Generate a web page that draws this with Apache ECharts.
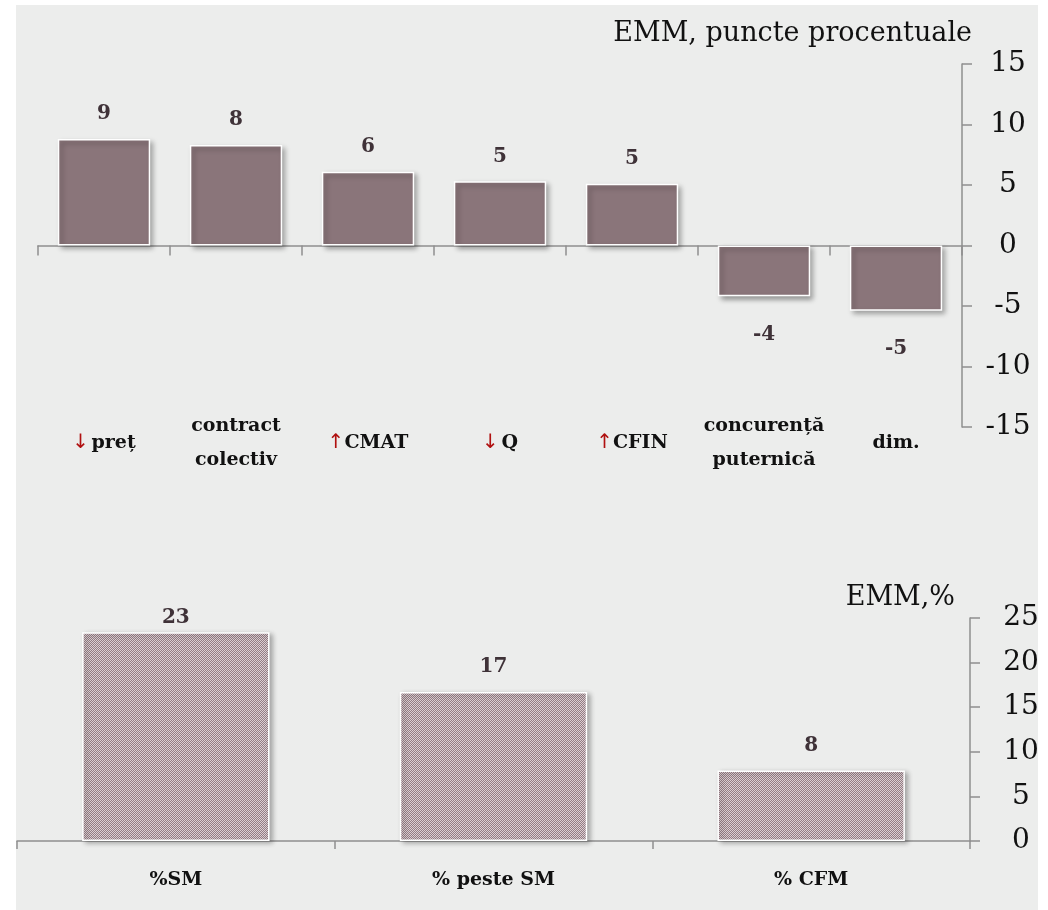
<!DOCTYPE html>
<html>
<head>
<meta charset="utf-8">
<script src="https://cdn.jsdelivr.net/npm/echarts@6/dist/echarts.min.js"></script>
<style>
  html, body { margin: 0; padding: 0; background: #ffffff; }
  #chart { width: 1048px; height: 910px; }
</style>
</head>
<body>
<div id="chart"></div>
<script>
// Factori care influențează salariile (EMM)
const factorCategories = ['↓ preț', 'contract\ncolectiv', '↑CMAT', '↓ Q', '↑CFIN', 'concurență\nputernică', 'dim.'];
const factorValues = [8.8, 8.3, 6.1, 5.3, 5.1, -4.2, -5.4];
const factorTicks = { min: -15, max: 15, step: 5 };

// Structura ajustărilor salariale (EMM, %)
const shareCategories = ['%SM', '% peste SM', '% CFM'];
const shareValues = [23.4, 16.7, 7.9];
const shareTicks = { min: 0, max: 25, step: 5 };

const SERIF = 'DejaVu Serif';
const AXIS_GRAY = '#8f8f8f';
const BAR = '#8a757a';
const LABEL_DARK = '#3f3238';

// fine dotted fill for the lower bars
function dotPattern() {
  const c = document.createElement('canvas');
  c.width = 2; c.height = 2;
  const g = c.getContext('2d');
  g.fillStyle = '#947d84'; g.fillRect(0, 0, 2, 2);
  g.fillStyle = '#dccfd3'; g.fillRect(0, 0, 1, 1); g.fillRect(1, 1, 1, 1);
  return c;
}

// category text with red arrows kept as rich-text fragments
function factorLabel(v) {
  return v.split('\n').map(line => {
    const m = line.match(/^([↓↑])(\s?)(.*)$/);
    if (m) return '{arr|' + m[1] + '}' + (m[2] ? '{sp| }' : '') + '{txt|' + m[3] + '}';
    return '{txt|' + line + '}';
  }).join('\n');
}

const chart = echarts.init(document.getElementById('chart'), null, { renderer: 'canvas' });

const option = {
  animation: false,
  backgroundColor: '#ffffff',
  graphic: [{
    type: 'rect', z: -10, silent: true,
    shape: { x: 16, y: 5, width: 1022, height: 905 },
    style: { fill: '#ecedec' }
  }],
  title: [
    { text: 'EMM, puncte procentuale', right: 76, top: 20, padding: 0,
      textStyle: { fontFamily: SERIF, fontSize: 27, fontWeight: 'normal', color: '#111' } },
    { text: 'EMM,%', right: 93, top: 584, padding: 0,
      textStyle: { fontFamily: SERIF, fontSize: 27, fontWeight: 'normal', color: '#111' } }
  ],
  grid: [
    { left: 38, right: 86, top: 64, height: 363 },
    { left: 17, right: 78, top: 618, height: 223 }
  ],
  xAxis: [
    {
      type: 'category', gridIndex: 0, data: factorCategories,
      axisLine: { onZero: true, lineStyle: { color: AXIS_GRAY, width: 1.5 } },
      axisTick: { show: true, length: 10, lineStyle: { color: AXIS_GRAY, width: 1.5 } },
      axisLabel: {
        margin: 16, verticalAlign: 'middle', interval: 0,
        formatter: factorLabel,
        rich: {
          txt: { fontFamily: SERIF, fontWeight: 'bold', fontSize: 19, color: '#111', lineHeight: 34 },
          sp: { fontFamily: SERIF, fontSize: 8, lineHeight: 34 },
          arr: { fontFamily: 'DejaVu Sans', fontWeight: 'normal', fontSize: 20, color: '#b01010', lineHeight: 34 }
        }
      }
    },
    {
      type: 'category', gridIndex: 1, data: shareCategories,
      axisLine: { onZero: true, lineStyle: { color: AXIS_GRAY, width: 1.5 } },
      axisTick: { show: true, length: 8, lineStyle: { color: AXIS_GRAY, width: 1.5 } },
      axisLabel: {
        margin: 39, verticalAlign: 'middle', interval: 0,
        fontFamily: SERIF, fontWeight: 'bold', fontSize: 19, color: '#111'
      }
    }
  ],
  yAxis: [
    {
      type: 'value', gridIndex: 0, position: 'right',
      min: factorTicks.min, max: factorTicks.max, interval: factorTicks.step,
      splitLine: { show: false },
      axisLine: { show: true, lineStyle: { color: AXIS_GRAY, width: 1.5 } },
      axisTick: { show: true, length: 10, lineStyle: { color: AXIS_GRAY, width: 1.5 } },
      axisLabel: { margin: 46, align: 'center', fontFamily: SERIF, fontSize: 28, color: '#111' }
    },
    {
      type: 'value', gridIndex: 1, position: 'right',
      min: shareTicks.min, max: shareTicks.max, interval: shareTicks.step,
      splitLine: { show: false },
      axisLine: { show: true, lineStyle: { color: AXIS_GRAY, width: 1.5 } },
      axisTick: { show: true, length: 10, lineStyle: { color: AXIS_GRAY, width: 1.5 } },
      axisLabel: { margin: 51, align: 'center', fontFamily: SERIF, fontSize: 28, color: '#111' }
    }
  ],
  series: [
    {
      type: 'bar', xAxisIndex: 0, yAxisIndex: 0,
      barCategoryGap: '30%',
      data: factorValues.map(v => ({
        value: v,
        label: v < 0 ? { position: 'bottom', distance: 28 } : { position: 'top', distance: 15 }
      })),
      itemStyle: {
        color: BAR, borderColor: '#ffffff', borderWidth: 1.5,
        shadowColor: 'rgba(0,0,0,0.35)', shadowBlur: 5, shadowOffsetX: 3, shadowOffsetY: 3
      },
      label: {
        show: true,
        formatter: p => String(Math.round(p.value)),
        fontFamily: SERIF, fontWeight: 'bold', fontSize: 20, color: LABEL_DARK
      }
    },
    {
      type: 'bar', xAxisIndex: 1, yAxisIndex: 1,
      barCategoryGap: '41%',
      // labels near the top of the scale are tucked closer to the bar
      data: shareValues.map(v => ({
        value: v,
        label: { distance: v > shareTicks.max - 2.5 ? 4 : 15 }
      })),
      itemStyle: {
        color: { image: dotPattern(), repeat: 'repeat' },
        borderColor: '#ffffff', borderWidth: 1.5,
        shadowColor: 'rgba(0,0,0,0.3)', shadowBlur: 5, shadowOffsetX: 3, shadowOffsetY: 2
      },
      label: {
        show: true, position: 'top',
        formatter: p => String(Math.round(p.value)),
        fontFamily: SERIF, fontWeight: 'bold', fontSize: 20, color: LABEL_DARK
      }
    }
  ]
};

chart.setOption(option);
</script>
</body>
</html>
